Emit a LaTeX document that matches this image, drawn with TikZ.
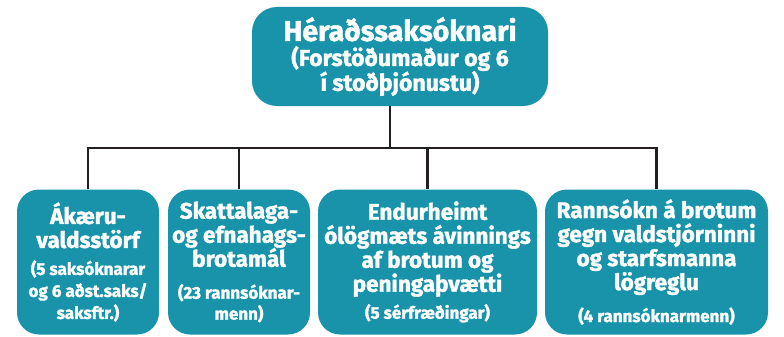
\documentclass[tikz,border=0pt]{standalone}
\usepackage{fontspec}
\setmainfont{Fira Sans}[BoldFeatures={FakeBold=1.6}]
\usepackage{tikz}
\usetikzlibrary{positioning,calc}
\definecolor{orgteal}{HTML}{1893A9}
\definecolor{orgline}{HTML}{231F20}
\tikzset{
orgbox/.style={fill=orgteal, text=white, rounded corners=22pt, inner sep=0pt,
  align=center, font=\bfseries\fontsize{22.5}{24}\selectfont}, % every box of the chart
topbox/.style={orgbox, minimum width=296pt, minimum height=99pt, rounded corners=25pt},
subbox/.style={orgbox, minimum height=145pt},
link/.style={draw=orgline, line width=2.4pt}, % lines between the boxes
}
\newcommand{\smalltxt}[1]{{\fontsize{17}{20}\selectfont #1}}

\begin{document}
\begin{tikzpicture}[x=1pt,y=-1pt]
   \useasboundingbox (0,0) rectangle (784,337);
   \node[topbox] (chief) at (400,56.5)
      {{\fontsize{28.5}{32}\selectfont H\'era\dh ssaks\'oknari}\\[1pt]
       {\fontsize{23}{26}\selectfont (Forst\"o\dh uma\dh ur og 6}\\[-1pt]
       {\fontsize{23}{26}\selectfont \'i sto\dh \th j\'onustu)}};
   \node[subbox, minimum width=142pt] (prosec) at (88,262)
      {\'Ak\ae ru-\\valdsst\"orf\\[3pt]
       \smalltxt{(5 saks\'oknarar}\\[-2pt]\smalltxt{og 6 a\dh st.saks/}\\[-2pt]\smalltxt{saksftr.)}};
   \node[subbox, minimum width=142pt] (taxcrime) at (239,262)
      {Skattalaga-\\og efnahags-\\brotam\'al\\[8pt]
       \smalltxt{(23 ranns\'oknar-}\\[-3pt]\smalltxt{menn)}};
   \node[subbox, minimum width=219pt] (recovery) at (427.5,262)
      {Endurheimt\\\'ol\"ogm\ae ts \'avinnings\\af brotum og\\peninga\th v\ae tti\\[3pt]
       \smalltxt{(5 s\'erfr\ae\dh ingar)}};
   \node[subbox, minimum width=223pt] (police) at (656.5,262)
      {Ranns\'okn \'a brotum\\gegn valdstj\'orninni\\og starfsmanna\\l\"ogreglu\\[8pt]
       \smalltxt{(4 ranns\'oknarmenn)}};
   \coordinate (bar) at (390,148);
   \draw[link] (chief.south -| bar) -- (bar);
   \draw[link] (prosec.north) |- (bar) -| (police.north);
   \draw[link] (taxcrime.north) -- (taxcrime.north |- bar);
   \draw[link] (recovery.north) -- (recovery.north |- bar);
\end{tikzpicture}
\end{document}
